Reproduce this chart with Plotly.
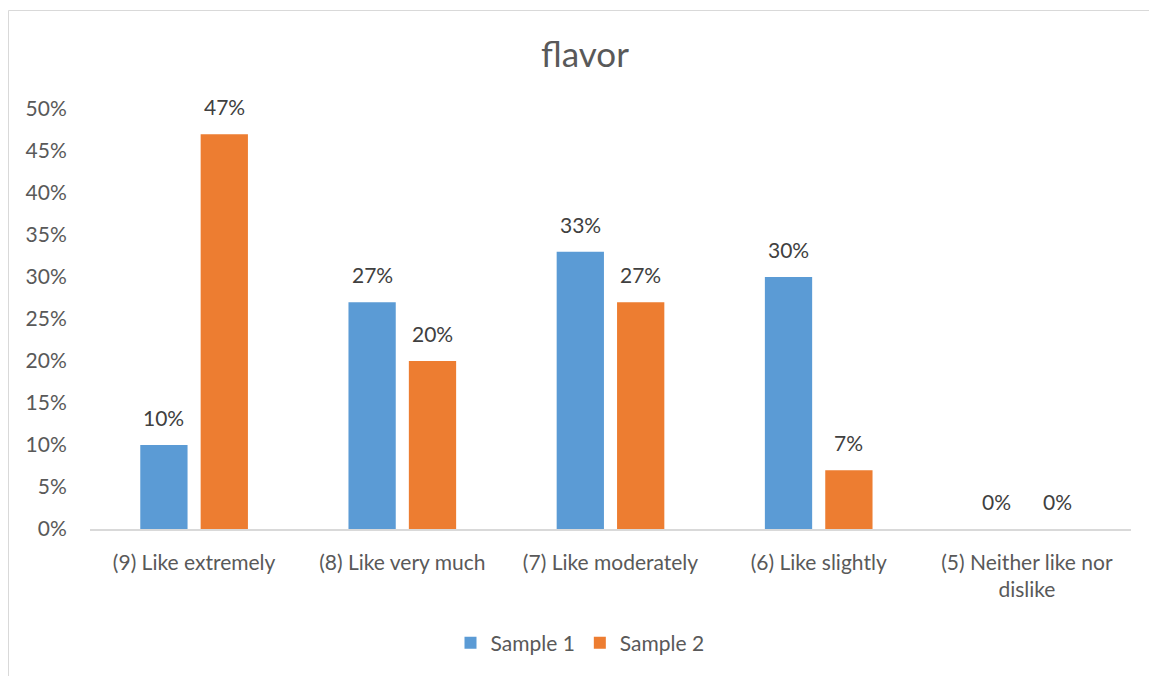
import plotly.graph_objects as go

categories = ["(9) Like extremely", "(8) Like very much", "(7) Like moderately",
              "(6) Like slightly", "(5) Neither like nor<br>dislike"]
sample1 = [0.10, 0.27, 0.33, 0.30, 0.00]
sample2 = [0.47, 0.20, 0.27, 0.07, 0.00]
series_names = ["Sample 1", "Sample 2"]
colors = ["#5B9BD5", "#ED7D31"]

FONT = "Lato, 'Open Sans', sans-serif"
TXT = "#595959"
FS = 21

W, H = 1149, 676
L, R, T, B = 90, 18, 109, 147
pw, ph = W - L - R, H - T - B
BARGAP = 0.42
cat_w = pw / len(categories)
slot = cat_w * (1 - BARGAP) / 2

fig = go.Figure()
annotations = []
for k, (name, vals, col) in enumerate(zip(series_names, [sample1, sample2], colors)):
    fig.add_trace(go.Bar(
        x=categories, y=vals, name=name, marker=dict(color=col, line=dict(width=0)),
    ))
    shift = (k - 0.5) * slot
    for c, v in zip(categories, vals):
        annotations.append(dict(
            x=c, y=v, xref="x", yref="y", text=f"{round(v*100)}%", showarrow=False,
            xshift=shift, yanchor="bottom", yshift=13,
            font=dict(family=FONT, size=FS, color="#404040"),
        ))

def px_to_paper_x(px):
    return (px - L) / pw

def py_to_paper_y(py):
    return (H - B - py) / ph

fig.update_layout(
    width=W, height=H,
    margin=dict(l=L, r=R, t=T, b=B, autoexpand=False),
    paper_bgcolor="white", plot_bgcolor="white",
    font=dict(family=FONT, color=TXT, size=FS),
    title=dict(text="flavor", x=585 / W, xanchor="center", y=1 - 55 / H, yanchor="middle",
               font=dict(family=FONT, size=35, color=TXT)),
    barmode="group", bargap=BARGAP, bargroupgap=0.217,
    showlegend=True,
    legend=dict(orientation="h", x=px_to_paper_x(580), xanchor="center",
                y=py_to_paper_y(643), yanchor="middle",
                font=dict(family=FONT, size=FS, color=TXT), itemwidth=30,
                traceorder="normal"),
    xaxis=dict(showline=True, linecolor="#D9D9D9", linewidth=1.5,
               ticks="outside", ticklen=14, tickcolor="rgba(0,0,0,0)",
               tickfont=dict(family=FONT, size=FS, color=TXT), showgrid=False),
    yaxis=dict(range=[0, 0.5], tickvals=[i * 0.05 for i in range(11)],
               tickformat=".0%", showgrid=False, showline=False, zeroline=False,
               ticks="outside", ticklen=18, tickcolor="rgba(0,0,0,0)",
               tickfont=dict(family=FONT, size=FS, color=TXT)),
    annotations=annotations,
    shapes=[dict(type="rect", xref="paper", yref="paper",
                 x0=px_to_paper_x(8.5), x1=px_to_paper_x(1170),
                 y0=py_to_paper_y(700), y1=py_to_paper_y(10.5),
                 line=dict(color="#D9D9D9", width=1), fillcolor="rgba(0,0,0,0)",
                 layer="below")],
)

fig.write_html("out.html")
